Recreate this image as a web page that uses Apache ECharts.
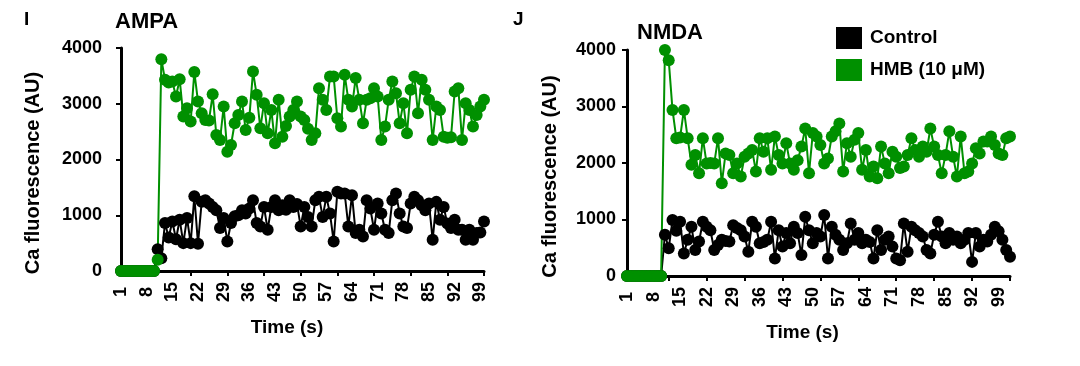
<!DOCTYPE html>
<html><head><meta charset="utf-8">
<script src="https://cdn.jsdelivr.net/npm/echarts@6/dist/echarts.min.js"></script>
<style>html,body{margin:0;padding:0;background:#fff}#c{width:1080px;height:366px}</style>
</head><body><div id="c"></div>
<script>
// ---- data ----
const xTickLabels = ['1','8','15','22','29','36','43','50','57','64','71','78','85','92','99'];
const yTicks = [0, 1000, 2000, 3000, 4000];

const ampaControl = [0,0,0,0,0,0,0,0,0,0,
  390,230,860,600,890,570,920,500,950,500,
  1340,490,1240,1270,1210,1150,1090,770,950,530,
  860,980,1000,1090,1030,1120,1270,860,800,1150,
  740,1150,1270,1090,1180,1100,1270,1150,1200,800,
  1150,970,800,1270,1330,970,1330,1030,530,1420,
  1390,1390,800,1360,680,740,620,1270,1120,740,
  1210,1030,740,680,1270,1390,1030,800,770,1210,
  1330,1270,1180,1090,1210,560,1240,920,1150,850,
  770,920,740,740,560,740,560,680,690,890];

const ampaHMB = [0,0,0,0,0,0,0,0,0,0,
  200,3800,3430,3380,3400,3130,3440,2770,2920,2680,
  3570,3040,2830,2710,2700,3170,2440,2350,2950,2140,
  2260,2650,2800,3040,2530,2750,3580,3160,2560,3010,
  2470,2890,2290,3070,2410,2600,2770,2890,3040,2770,
  2710,2550,2350,2470,3280,3070,2890,3490,3490,2740,
  2590,3520,3070,2950,3460,3070,2650,3070,3100,3280,
  3130,2350,2590,3070,3400,3190,2650,3010,2470,3250,
  3490,2830,3430,3250,3070,2350,2950,2890,2410,2390,
  2400,3220,3280,2350,3010,2890,2590,2800,2950,3070];

const nmdaControl = [0,0,0,0,0,0,0,0,0,0,
  730,490,990,800,960,400,640,870,460,610,
  960,870,810,460,550,640,620,610,900,850,
  810,700,430,960,870,580,600,640,960,310,
  810,520,760,580,870,760,370,1050,810,580,
  760,700,1080,310,870,730,640,460,580,930,
  640,760,580,640,600,310,810,460,640,700,
  520,310,280,930,430,870,810,760,700,460,
  400,730,960,700,580,760,640,700,580,640,
  760,250,760,520,640,610,730,870,790,640,
  460,340];

const nmdaHMB = [0,0,0,0,0,0,0,0,0,0,
  4000,3820,2940,2440,2450,2940,2440,1970,2140,1820,
  2440,1990,2000,1990,2440,1640,2170,2140,1820,1990,
  1760,2110,2170,2230,1850,2440,2200,2440,1880,2470,
  2140,1990,2350,1990,1880,2050,2290,2610,1820,2530,
  2470,2320,1990,2080,2470,2560,2700,1850,2350,2110,
  2410,2530,1880,2230,1760,1940,1730,2290,1990,1820,
  2200,2110,1910,1940,2140,2440,2230,2110,2290,2200,
  2610,2290,2140,1820,2140,2560,2110,1760,2470,1820,
  1850,1990,2260,2170,2380,2380,2470,2320,2170,2140,
  2440,2470];

// ---- chart ----
const FONT = "'Liberation Sans', Arial, sans-serif";
const GREEN = '#009000';
const BLACK = '#000000';
const cats = n => Array.from({length: n}, (_, i) => String(i + 1));

function makeX(gridIndex, n, shift) {
  return {
    type: 'category', gridIndex, data: cats(n), boundaryGap: false,
    axisLine: {show: true, lineStyle: {color: BLACK, width: 3}},
    axisTick: {show: true, length: 5, lineStyle: {color: BLACK, width: 2},
               interval: (i) => (n - 1 - i) % 10 === 0},
    axisLabel: {interval: (i, v) => xTickLabels.includes(v), rotate: 90,
                align: 'center', verticalAlign: 'middle', margin: 21,
                fontSize: 18, fontWeight: 'bold', color: BLACK, fontFamily: FONT},
    splitLine: {show: false},
    name: 'Time (s)', nameLocation: 'middle', nameGap: 47,
    nameTextStyle: {fontSize: 19, fontWeight: 'bold', color: BLACK, fontFamily: FONT,
                    padding: [0, shift, 0, 0]}
  };
}
function makeY(gridIndex, margin, nameGap, shift) {
  return {
    type: 'value', gridIndex, min: yTicks[0], max: yTicks[yTicks.length - 1], interval: 1000,
    axisLine: {show: true, lineStyle: {color: BLACK, width: 3}},
    axisTick: {show: true, length: 5, lineStyle: {color: BLACK, width: 2}},
    splitLine: {show: false},
    axisLabel: {margin, fontSize: 18, fontWeight: 'bold', color: BLACK, fontFamily: FONT,
                formatter: v => String(v)},
    name: 'Ca fluorescence (AU)', nameLocation: 'middle', nameGap,
    nameTextStyle: {fontSize: 20, fontWeight: 'bold', color: BLACK, fontFamily: FONT,
                    padding: [0, shift, 0, 0]}
  };
}
function makeSeries(name, idx, data, color) {
  return {
    type: 'line', name, xAxisIndex: idx, yAxisIndex: idx, data,
    symbol: 'circle', symbolSize: 12, showAllSymbol: true,
    itemStyle: {color}, lineStyle: {color, width: 2},
    emphasis: {disabled: true}
  };
}

const chart = echarts.init(document.getElementById('c'), null, {renderer: 'canvas'});
chart.setOption({
  animation: false,
  backgroundColor: '#ffffff',
  textStyle: {fontFamily: FONT},
  grid: [
    {left: 121, top: 48, width: 363, height: 223},
    {left: 627, top: 50, width: 383, height: 226}
  ],
  xAxis: [makeX(0, ampaControl.length, 31), makeX(1, nmdaControl.length, 32)],
  yAxis: [makeY(0, 19, 78, 27), makeY(1, 11, 67, 27)],
  legend: {
    orient: 'vertical', left: 831, top: 22, itemWidth: 26, itemHeight: 22, itemGap: 10,
    icon: 'rect', data: ['Control', 'HMB (10 μM)'], selectedMode: false,
    textStyle: {fontSize: 19, fontWeight: 'bold', color: BLACK, fontFamily: FONT, padding: [0, 0, 0, 3]}
  },
  graphic: [
    {type: 'text', style: {x: 24, y: 20, text: 'I', font: 'bold 19px ' + FONT, fill: BLACK, verticalAlign: 'middle'}},
    {type: 'text', style: {x: 115, y: 22, text: 'AMPA', font: 'bold 22px ' + FONT, fill: BLACK, verticalAlign: 'middle'}},
    {type: 'text', style: {x: 513, y: 20, text: 'J', font: 'bold 19px ' + FONT, fill: BLACK, verticalAlign: 'middle'}},
    {type: 'text', style: {x: 637, y: 33, text: 'NMDA', font: 'bold 22px ' + FONT, fill: BLACK, verticalAlign: 'middle'}}
  ],
  series: [
    makeSeries('Control', 0, ampaControl, BLACK),
    makeSeries('HMB (10 μM)', 0, ampaHMB, GREEN),
    makeSeries('Control', 1, nmdaControl, BLACK),
    makeSeries('HMB (10 μM)', 1, nmdaHMB, GREEN)
  ]
});
</script></body></html>
